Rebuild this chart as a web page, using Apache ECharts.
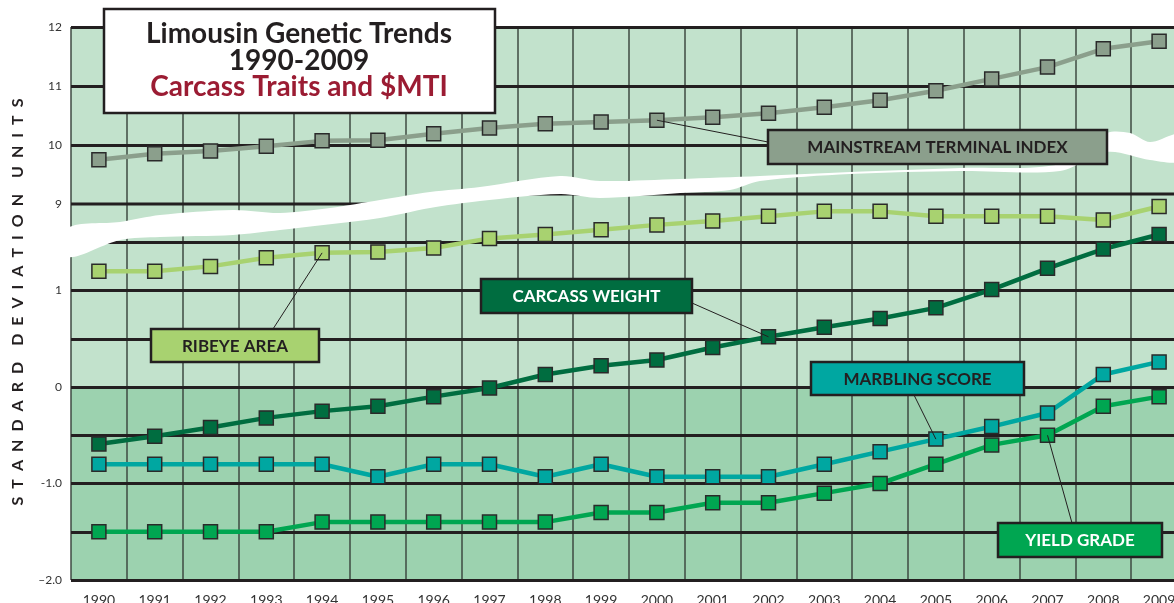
<!DOCTYPE html>
<html>
<head>
<meta charset="utf-8">
<title>Limousin Genetic Trends 1990-2009</title>
<script src="https://cdn.jsdelivr.net/npm/echarts@6/dist/echarts.min.js"></script>
<style>
  html, body { margin: 0; padding: 0; background: #fff; }
  #chart { width: 1174px; height: 603px; }
</style>
</head>
<body>
<div id="chart"></div>
<script>
const years = ['1990', '1991', '1992', '1993', '1994', '1995', '1996', '1997', '1998', '1999',
  '2000', '2001', '2002', '2003', '2004', '2005', '2006', '2007', '2008', '2009']

// upper scale (above the axis break)
const mtiValues = [9.75, 9.85, 9.90, 9.98, 10.07, 10.08, 10.19, 10.29, 10.36, 10.39,
  10.42, 10.47, 10.54, 10.64, 10.76, 10.92, 11.12, 11.32, 11.63, 11.76]
// lower scale
const ribeyeValues = [1.2, 1.2, 1.25, 1.34, 1.39, 1.4, 1.44, 1.54, 1.58, 1.63,
  1.68, 1.72, 1.77, 1.82, 1.82, 1.77, 1.77, 1.77, 1.73, 1.87]
const carcassValues = [-0.59, -0.51, -0.42, -0.32, -0.25, -0.2, -0.1, -0.01, 0.13, 0.22,
  0.28, 0.41, 0.52, 0.62, 0.71, 0.82, 1.01, 1.23, 1.43, 1.58]
const marblingValues = [-0.8, -0.8, -0.8, -0.8, -0.8, -0.93, -0.8, -0.8, -0.93, -0.8,
  -0.93, -0.93, -0.93, -0.8, -0.67, -0.54, -0.41, -0.27, 0.13, 0.26]
const yieldValues = [-1.5, -1.5, -1.5, -1.5, -1.4, -1.4, -1.4, -1.4, -1.4, -1.3,
  -1.3, -1.2, -1.2, -1.1, -1.0, -0.8, -0.6, -0.5, -0.2, -0.1]

const lowerTickValues = [-2, -1, 0, 1]
const lowerTickText = ['\u20132.0', '-1.0', '0', '1']

const font = 'Lato, "Open Sans", sans-serif'
const ink = '#231f20'
const lightBg = '#c2e2cc'
const darkBg = '#9cd2af'
const gridLine = { color: ink, width: 3 }

const colors = {
  mti: '#8b9f8c',
  ribeye: '#a8d270',
  carcass: '#006d40',
  marbling: '#00a7a1',
  yield: '#00a651'
}

function lineSeries(name, data, color, xi, yi) {
  return {
    name: name,
    type: 'line',
    data: data,
    xAxisIndex: xi,
    yAxisIndex: yi,
    z: 3,
    symbol: 'rect',
    symbolSize: 14,
    showAllSymbol: true,
    lineStyle: { color: color, width: 4.5 },
    itemStyle: { color: color, borderColor: '#2a2a2a', borderWidth: 1.5 },
    emphasis: { disabled: true }
  }
}

const chart = echarts.init(document.getElementById('chart'))

const hiddenAxisParts = { axisLine: { show: false }, axisTick: { show: false } }
// the plot runs off the right edge of the picture, so keep the grids from being squeezed in
const gridBase = { left: 71, width: 1116, outerBoundsMode: 'none', containLabel: false }

chart.setOption({
  animation: false,
  grid: [
    // full plot area: background, vertical lines, year labels
    Object.assign({ top: 27, height: 553, show: true, backgroundColor: lightBg, borderWidth: 0 }, gridBase),
    // upper part, 9 - 12
    Object.assign({ top: 27, height: 177 }, gridBase),
    // lower part, -2 - 2
    Object.assign({ top: 194, height: 386 }, gridBase)
  ],
  xAxis: [
    Object.assign({
      type: 'category', gridIndex: 0, data: years, boundaryGap: true,
      axisLabel: { interval: 0, color: '#333', fontSize: 14, margin: 13, fontFamily: font },
      splitLine: { show: false }
    }, hiddenAxisParts),
    { type: 'category', gridIndex: 1, data: years, boundaryGap: true, show: false },
    { type: 'category', gridIndex: 2, data: years, boundaryGap: true, show: false },
    // vertical lines between the years
    Object.assign({
      type: 'value', gridIndex: 0, min: -0.5, max: years.length - 0.5, interval: 1, z: 1,
      axisLabel: { show: false },
      splitLine: { show: true, lineStyle: { color: '#3e4a42', width: 1.5 } }
    }, hiddenAxisParts)
  ],
  yAxis: [
    { type: 'value', gridIndex: 0, show: false },
    Object.assign({
      type: 'value', gridIndex: 1, min: 9, max: 12, interval: 1, z: 1.5,
      axisLabel: { color: '#333', fontSize: 12, margin: 9, fontFamily: font },
      splitLine: { show: true, showMinLine: false, lineStyle: gridLine }
    }, hiddenAxisParts),
    Object.assign({
      type: 'value', gridIndex: 2, min: -2, max: 2, interval: 0.5, z: 0,
      axisLabel: {
        color: '#333', fontSize: 12, margin: 9, fontFamily: font,
        formatter: v => {
          const k = lowerTickValues.indexOf(v)
          return k < 0 ? '' : lowerTickText[k]
        }
      },
      splitLine: { show: false },
      splitArea: { show: true, areaStyle: { color: [darkBg, darkBg, darkBg, darkBg, lightBg, lightBg, lightBg, lightBg] } }
    }, hiddenAxisParts),
    Object.assign({
      type: 'value', gridIndex: 2, min: -2, max: 2, interval: 0.5, z: 1.5,
      axisLabel: { show: false },
      splitLine: { show: true, showMaxLine: false, lineStyle: gridLine }
    }, hiddenAxisParts)
  ],
  series: [
    lineSeries('Mainstream Terminal Index', mtiValues, colors.mti, 1, 1),
    lineSeries('Ribeye Area', ribeyeValues, colors.ribeye, 2, 2),
    lineSeries('Carcass Weight', carcassValues, colors.carcass, 2, 2),
    lineSeries('Marbling Score', marblingValues, colors.marbling, 2, 2),
    lineSeries('Yield Grade', yieldValues, colors.yield, 2, 2)
  ]
})

// --- decorations: axis break, callout boxes, title ---
const px = (s, i, v) => chart.convertToPixel({ seriesIndex: s }, [i, v])
const y9 = chart.convertToPixel({ yAxisIndex: 1 }, 9)
const y2 = chart.convertToPixel({ yAxisIndex: 3 }, 2)

const breakTop = [[68, 228], [120, 222], [160, 215], [233, 210], [280, 213], [330, 208], [380, 200],
  [430, 192], [480, 187], [560, 176], [600, 181], [680, 179], [760, 176], [850, 172], [960, 168],
  [1060, 164], [1107, 133], [1130, 133], [1150, 142], [1180, 134]]
const breakBottom = [[1180, 161], [1150, 160], [1107, 152], [1060, 171], [960, 171], [850, 174],
  [760, 181], [730, 190], [680, 193], [600, 198], [560, 194], [480, 201], [430, 208], [380, 218],
  [280, 230], [233, 235], [160, 237], [120, 240], [68, 257]]

function label(text, x, y, fontCss, fill, z) {
  return { type: 'text', z: z, style: { text: text, x: x, y: y,
    textAlign: 'center', textVerticalAlign: 'middle', align: 'center', verticalAlign: 'middle',
    font: fontCss, fill: fill } }
}

function box(x, y, w, h, fill, text, textColor) {
  return [
    { type: 'rect', z: 6, shape: { x: x, y: y, width: w, height: h },
      style: { fill: fill, stroke: ink, lineWidth: 2.5 } },
    label(text, x + w / 2, y + h / 2 + 1, 'bold 17px ' + font, textColor, 7)
  ]
}

function leader(from, to) {
  return { type: 'line', z: 5, shape: { x1: from[0], y1: from[1], x2: to[0], y2: to[1] },
    style: { stroke: ink, lineWidth: 1 } }
}

const sp = '\u2002'
const axisTitle = ['STANDARD', 'DEVIATION', 'UNITS'].map(w => w.split('').join(sp)).join(sp + sp)

const elements = [
  // partial grid lines on each side of the break
  { type: 'line', z: 1.6, shape: { x1: 71, y1: y9, x2: 420, y2: y9 }, style: { stroke: ink, lineWidth: 3 } },
  { type: 'line', z: 1.6, shape: { x1: 480, y1: y2, x2: 1190, y2: y2 }, style: { stroke: ink, lineWidth: 3 } },
  // white break band
  { type: 'polygon', z: 2, shape: { points: breakTop.concat(breakBottom), smooth: 0.3 },
    style: { fill: '#fff', stroke: null } },
  // leader lines
  leader([768, 142], px(0, 10, mtiValues[10])),
  leader([273, 329], px(1, 4, ribeyeValues[4])),
  leader([692, 303], px(2, 12, carcassValues[12])),
  leader([914, 395], px(3, 15, marblingValues[15])),
  leader([1072, 523], px(4, 17, yieldValues[17])),
  // title
  { type: 'rect', z: 8, shape: { x: 104, y: 9, width: 391, height: 104 },
    style: { fill: '#fff', stroke: ink, lineWidth: 2.5 } },
  label('Limousin Genetic Trends', 299, 34, 'bold 28px ' + font, ink, 9),
  label('1990-2009', 299, 61, 'bold 28px ' + font, ink, 9),
  label('Carcass Traits and $MTI', 299, 87, 'bold 28px ' + font, '#9b1c33', 9),
  // y axis title
  { type: 'text', z: 9, x: 18, y: 302, rotation: Math.PI / 2,
    style: { text: axisTitle, x: 0, y: 0, textAlign: 'center', textVerticalAlign: 'middle',
      align: 'center', verticalAlign: 'middle', font: 'bold 16px ' + font, fill: ink } }
]
  .concat(box(768, 130, 339, 34, colors.mti, 'MAINSTREAM TERMINAL INDEX', ink))
  .concat(box(151, 329, 168, 33, colors.ribeye, 'RIBEYE AREA', ink))
  .concat(box(481, 279, 211, 34, colors.carcass, 'CARCASS WEIGHT', '#fff'))
  .concat(box(811, 362, 213, 33, colors.marbling, 'MARBLING SCORE', ink))
  .concat(box(998, 523, 164, 34, colors.yield, 'YIELD GRADE', '#fff'))

chart.setOption({ graphic: { elements: elements } })
</script>
</body>
</html>
